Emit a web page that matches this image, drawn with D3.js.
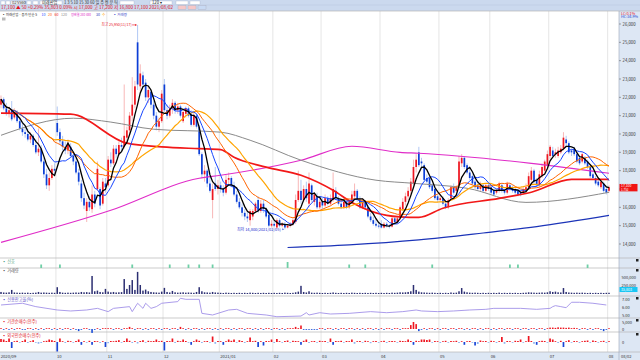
<!DOCTYPE html>
<html><head><meta charset="utf-8">
<script src="https://cdn.jsdelivr.net/npm/d3@7"></script>
<style>body{margin:0;background:#fff}svg{display:block;font-family:"Noto Sans CJK KR","Noto Sans",sans-serif}</style>
</head><body><svg id="c" width="640" height="360"></svg>
<script>
// ---------- DATA (daily, 2020/09/01 .. 2021/08/02) ----------
const open = [21600,21900,21400,21100,21300,20900,21200,20700,20300,20100,20000,19700,19900,19400,19000,19200,18500,17800,17200,17600,18100,
20600,20100,19600,19300,19100,19300,18800,18500,17900,17300,16500,15800,16300,15900,16700,17000,17000,16200,17300,
17200,18600,18400,19200,18900,19400,19300,19800,20200,21000,21600,25000,22600,23200,22800,22000,22300,21600,21000,20400,20700,
22700,21300,21000,21400,21700,21300,21500,20700,21100,21400,21100,20500,21000,20400,18900,17800,18000,17300,16400,17300,17000,
17200,17000,16800,17500,17600,17200,16700,16300,16000,15700,15500,15300,15500,15800,16400,15800,16200,15900,15600,15000,
15100,14900,15300,15000,15100,14900,15000,15100,15200,16400,16900,16400,17000,16200,17200,16300,16600,16000,
16300,16100,16500,16200,16400,16900,16500,16200,16000,16300,16000,16300,16600,16900,16400,16000,16300,16000,15500,15300,15100,15000,
15100,14900,15100,15000,14950,15400,15200,15400,15900,16300,16600,16900,17300,18200,19000,18500,18300,17600,17600,17200,17000,16600,
16400,16500,16200,16000,16500,17100,16900,17200,18400,18700,18300,17900,17700,17400,17200,17000,17200,16900,17200,
17100,16900,16800,16900,17200,16900,16800,17200,17100,17000,16900,16800,16800,16900,17100,17500,18000,17500,17200,17700,18000,18300,
18800,19100,18900,18800,19000,19200,19700,19500,19100,19200,18900,18700,18500,18700,18500,18200,17800,17600,17400,17100,17300,17000,
16900];
const high = [22100,22000,21700,21500,21800,21400,21300,20900,20600,20400,20300,20100,20000,19700,20300,19400,18700,18100,17900,18300,18400,
21500,20300,19900,19600,19700,19500,19000,18700,18100,17500,16800,16500,16600,17200,16900,18500,17100,17600,17600,
18800,19000,19400,19400,19600,19800,22700,20400,21200,23100,22900,25950,23800,23400,23000,22600,22400,21800,21200,20900,22400,
23000,21600,21600,21900,21800,21700,21600,21300,21500,21500,21300,21200,21100,20500,19000,18300,18100,17700,17300,18200,17500,
17400,17200,17800,17900,17700,17400,16900,16500,16200,15900,15800,15900,15900,16300,16600,16400,16400,16000,15800,15300,
15300,15400,15400,15200,15200,15100,15200,15400,16700,18000,17500,17200,17400,17900,17300,16800,16800,16500,
16500,16700,16600,16700,17900,17100,16600,16300,16500,16400,16400,16900,17300,17000,16600,16500,16400,16100,15700,15500,15400,15200,
15300,15200,15200,15100,15500,15500,15500,16100,16500,16800,17100,17600,18600,18900,19300,18700,18400,17800,17700,17300,17100,16700,
16700,16600,16300,16500,17200,17300,17200,18800,18900,18800,18400,18100,17800,17500,17300,17400,17300,17300,17300,
17200,17000,17000,17400,17300,17000,17400,17300,17200,17100,17000,16900,17100,17300,17900,18200,18100,17600,18000,18400,18600,19100,
19400,19300,19200,19300,19400,20100,19900,19600,19200,19300,19000,18800,19000,18800,18600,18300,17900,17700,17500,17500,17400,17100,
17200];
const low = [21400,21300,21000,20900,20700,20800,20600,20200,19900,19800,19600,19500,19300,18900,18800,18400,17600,17000,16900,17500,17800,
19900,19400,19100,18900,18900,18700,18300,17800,17200,16300,15900,15200,15800,15700,16000,16900,15900,16100,16800,
17100,18200,18300,18700,18800,19100,19200,19500,20000,20700,21400,22400,22200,22500,21800,21700,21400,20800,20200,20100,20600,
21200,20800,20900,21100,21100,21100,20900,20600,20900,20900,20400,20400,20300,18800,17600,17400,17100,16800,15400,16900,16700,
16800,16600,16700,17200,17100,16600,16200,15900,15500,15300,15200,15000,15300,15700,15700,15700,15700,15400,14900,14900,
14900,14850,14900,14900,14800,14850,14900,15000,15100,16300,16200,16300,16300,16000,16300,16100,15900,15900,
15900,16000,16100,16100,16300,16400,16100,15900,15900,15900,15900,16200,16500,16300,15900,15900,15900,15400,15200,15000,14900,14850,
14850,14850,14900,14850,14900,15100,15100,15300,15800,16100,16400,16700,17200,17900,18200,18200,17400,17300,17000,16800,16400,16300,
16300,16100,15900,15900,16400,16700,16700,17100,18200,18100,17800,17500,17200,17000,16900,16900,16800,16800,16900,
16700,16600,16700,16800,16800,16700,16700,16900,16800,16700,16600,16600,16700,16800,17000,17400,17300,17100,17100,17600,17900,18200,
18600,18700,18700,18700,18900,19100,19300,18900,18800,18800,18400,18300,18400,18300,18100,17600,17500,17200,17100,17000,16800,16700,
16800];
const close = [21900,21400,21100,21300,20800,21200,20700,20300,20100,20000,19700,19900,19400,19000,19200,18500,17800,17200,17600,18100,18000,
20100,19600,19300,19100,19400,18800,18500,17900,17400,16500,16100,16300,16000,16700,16200,18100,16100,17400,17100,
18600,18400,19200,18900,19400,19300,19900,20200,21000,21600,22600,22700,23300,22700,22000,22400,21600,21000,20400,20700,22200,
21300,21000,21400,21700,21300,21500,21000,21200,21400,21000,20500,21000,20400,18900,17800,18000,17300,16900,17000,17000,17200,
17000,16800,17500,17600,17200,16700,16300,16000,15700,15500,15400,15800,15800,16200,15800,16200,15900,15500,15000,15100,
15000,15300,15000,15100,14900,15000,15100,15300,16400,16900,16400,17000,16500,17300,16400,16700,16000,16300,
16100,16500,16200,16500,17000,16500,16200,16000,16300,16000,16300,16700,16900,16400,16000,16300,16000,15500,15300,15100,15000,14950,
14900,15100,15000,14950,15400,15200,15400,16000,16300,16600,16900,17400,18200,18600,18300,18400,17500,17400,17100,16900,16500,16400,
16500,16200,16000,16400,17100,16800,17100,18500,18700,18200,17900,17600,17300,17100,17000,17200,16900,17200,17000,
16800,16700,16900,17300,16900,16800,17300,17000,16900,16800,16700,16700,17000,17100,17700,18000,17400,17200,17800,18200,18500,18900,
19300,18800,19000,19100,19200,19800,19500,19000,19000,18900,18500,18400,18900,18400,18200,17700,17600,17300,17200,17400,16900,16800,
17100];
const volume = [60000,45000,40000,50000,120000,45000,40000,35000,40000,35000,40000,30000,35000,40000,60000,40000,45000,40000,35000,40000,
35000,200000,60000,40000,35000,40000,35000,40000,45000,40000,60000,50000,55000,45000,530000,80000,100000,60000,50000,150000,
70000,50000,60000,45000,50000,55000,440000,150000,265000,410000,120000,650000,265000,100000,130000,80000,60000,50000,45000,40000,
70000,180000,60000,45000,90000,50000,40000,45000,50000,40000,45000,40000,35000,60000,200000,80000,50000,45000,40000,60000,
45000,40000,35000,30000,40000,35000,30000,35000,30000,35000,30000,35000,30000,40000,35000,30000,35000,30000,35000,30000,
35000,30000,35000,30000,35000,30000,40000,35000,30000,35000,50000,70000,240000,60000,45000,80000,40000,35000,40000,35000,
30000,35000,30000,35000,45000,35000,30000,35000,30000,35000,30000,40000,35000,30000,35000,30000,35000,30000,35000,30000,
35000,30000,35000,30000,35000,30000,40000,35000,40000,50000,45000,50000,60000,80000,265000,120000,70000,50000,45000,40000,
35000,40000,35000,30000,35000,30000,35000,30000,45000,35000,40000,80000,175000,70000,50000,40000,35000,40000,35000,30000,
35000,30000,35000,30000,35000,30000,40000,30000,35000,30000,35000,30000,35000,30000,30000,35000,40000,50000,45000,40000,
35000,40000,45000,40000,50000,80000,60000,70000,50000,45000,175000,60000,45000,40000,35000,40000,35000,40000,35000,30000,
35000,30000,35000,30000,35000,30000,35000,35803];
const instNet = [300,-300,200,-200,300,-300,200,300,-200,-300,200,300,-300,200,-200,300,-300,200,300,-200,
300,-400,200,-300,300,200,-300,300,-300,-1500,-400,300,200,-300,-2800,-600,300,-300,200,300,
300,200,-300,300,200,-200,300,400,1500,300,-300,600,200,-300,300,-200,300,200,-300,300,
-300,300,200,-300,300,200,-300,1500,300,-200,300,-300,200,300,-300,200,-300,300,200,-300,
300,-200,300,-300,200,300,-300,200,-300,300,200,-300,300,200,-300,300,-200,300,-300,200,
300,-300,200,300,-300,200,-300,300,200,300,1500,600,2500,-500,-600,-400,-500,-300,-400,300,
300,-300,200,300,-300,200,-300,300,200,-300,300,200,-300,300,-400,200,-300,300,200,-300,
300,-200,300,-300,200,300,-300,200,300,-300,200,300,600,2800,5000,3500,-1500,-300,300,-300,
300,200,-300,300,-300,200,300,-300,200,300,-300,200,300,-300,200,-300,300,200,-300,300,
-300,200,300,-300,200,-300,300,200,-300,300,200,-300,300,200,-400,300,200,-300,300,200,
-300,300,200,-300,300,1000,1000,800,1200,1000,1000,800,1000,600,800,600,-300,300,200,-300,
300,-300,200,300,-300,-1500,-300,200];
const foreignNet = [30,25,10,35,-60,8,12,-8,10,25,-10,6,18,-6,-18,-10,8,12,25,18,
10,-95,35,8,-10,12,6,-8,10,25,-28,8,-6,12,-28,10,8,-10,6,-50,
-12,10,8,12,18,-8,10,35,12,-10,8,-15,10,18,-8,12,6,10,25,8,
12,-85,10,8,35,-10,12,8,25,10,-8,-28,6,25,12,-10,8,10,-6,55,
-18,10,8,-28,6,25,12,25,-8,18,10,-10,6,45,8,12,-50,6,-35,10,
8,25,-10,30,6,-8,10,15,-6,12,10,8,-28,12,25,-10,6,10,-8,12,
6,10,-8,35,-28,10,8,12,-6,10,8,25,-18,6,10,-8,12,6,-12,8,
10,-6,8,12,-10,6,10,8,-6,12,10,8,25,10,-28,12,8,25,25,20,
25,-8,10,6,-10,8,12,-6,10,8,12,-10,6,-28,8,10,-8,-35,-20,15,
8,10,-6,12,8,-10,6,50,-18,10,8,-6,12,10,25,-8,6,60,10,-18,
-28,8,12,10,-6,35,25,8,-10,12,-50,6,18,-8,10,6,-10,8,12,15,
-8,15,10,-6,8,12,-10,8];
// long moving averages (index, price)
const ma60Idx = [0,26,47,60,74,82,87,99,112,124,131,144,149,156,165,186,198,213,227];
const ma60Val = [21140,21080,19500,19300,19200,19150,18730,18190,17750,16930,16270,15560,15480,15450,15950,16490,16820,17530,17530];
const ma120Idx = [0,27,41,57,82,93,112,140,154,174,196,227];
const ma120Val = [19930,20860,20650,20260,20100,19660,18570,17480,17310,17040,16270,16820];
const ma240Idx = [0,41,74,82,112,131,149,156,198,227];
const ma240Val = [14090,15840,17590,17750,18570,19330,19000,18950,18400,17860];
const ma480Idx = [107,130,156,180,200,227];
const ma480Val = [13810,13950,14220,14600,14950,15560];
// credit balance ratio (%) read at turning points
const creditIdx = [0,8,13,21,26,32,36,40,42,48,49,51,53,54,56,58,60,66,67,69,74,75,79,85,88,92,99,103,112,114,115,119,123,130,138,144,150,155,157,163,169,175,181,184,194,200,205,206,207,209,211,213,216,221,226];
const creditVal = [6.27,6.48,6.07,5.66,5.54,5.66,5.86,5.46,5.86,6.07,5.46,6.48,5.86,6.48,5.86,6.07,6.48,6.68,7.09,6.96,6.96,5.25,5.05,5.66,5.74,5.25,5.05,4.84,4.92,5.33,5.05,5.33,5.17,5.25,5.46,5.33,5.46,5.66,5.54,5.46,5.54,5.66,5.74,5.86,5.86,5.74,5.86,6.07,6.19,6.07,5.94,6.60,6.60,6.48,6.27];
const signalIdx = [15,22,49,63,70,74,79,107,130,136,161,190,193,219];
const signalLevel = [1,1,1,1,1,1,1,2,1,1,1,1,1,1];
const monthStart = [0,21,40,61,82,102,120,142,164,183,205,227];
const monthLabels = ["2020/09","10","11","12","2021/01","02","03","04","05","06","07","08"];
const priceTicks = [14000,15000,16000,17000,18000,19000,20000,21000,22000,23000,24000,25000,26000];
const volTicks = [250000,500000];
const creditTicks = [5,6,7];
const shortMA = [{n:30,c:"#ffa400",w:1.2},{n:20,c:"#ff6400",w:1},{n:10,c:"#1746ff",w:1},{n:5,c:"#000000",w:1.3}];

// ---------- DRAW ----------
const svg = d3.select("#c");
const N = close.length;
const x = d3.scaleLinear().domain([0, N-1]).range([1, 609]);
const y = d3.scaleLinear().domain([14000, 26000]).range([244, 24]);
const yV = d3.scaleLinear().domain([0, 500000]).range([294, 277]);
const yC = d3.scaleLinear().domain([5, 7]).range([315.4, 299]);
const yI = d3.scaleLinear().domain([0, 5000]).range([329, 322]);
const yF = d3.scaleLinear().domain([0, 100]).range([342, 332]);
const fmt = d3.format(",");
const step = x(1)-x(0);

svg.append("rect").attr("width",640).attr("height",360).attr("fill","#fff");
// header
svg.append("rect").attr("width",640).attr("height",11).attr("fill","#cbd9ee");
svg.append("line").attr("x1",0).attr("x2",640).attr("y1",5).attr("y2",5).attr("stroke","#b7c7de").attr("stroke-width",0.5);
const hdr = svg.append("g").attr("font-size",4.2);
[[1,1,4],[6,1,4],[11,1,14],[27,1,4],[33,1,5],[40,1,22],[120,1,14],[150,1,22],[176,1,12],[190,1,10]].forEach(b=>
  hdr.append("rect").attr("x",b[0]).attr("y",b[1]).attr("width",b[2]).attr("height",3.4).attr("fill","#fff").attr("stroke","#9aa9c0").attr("stroke-width",0.3));
hdr.append("text").attr("x",12).attr("y",3.9).attr("fill","#222").text("025560");
hdr.append("text").attr("x",42).attr("y",3.9).attr("fill","#222").text("미래산업");
hdr.append("text").attr("x",64).attr("y",3.9).attr("fill","#333").attr("textLength",54).attr("lengthAdjust","spacingAndGlyphs").text("1 3 5 10 15 30 60 일 주 월 분 틱");
hdr.append("text").attr("x",152).attr("y",3.9).attr("fill","#222").text("120 ▾");
hdr.append("text").attr("x",1).attr("y",9.2).attr("fill","#e0101a").attr("textLength",172).attr("lengthAdjust","spacingAndGlyphs")
  .text("17,100 ▲  50 +0.29%   35,803   0.09%   시 17,000  고 17,200  저 16,800  17,100  2021/08/02");
[[178,"#f6c8c8"],[188,"#f6c8c8"],[198,"#c8daf4"]].forEach(b=>
  hdr.append("rect").attr("x",b[0]).attr("y",5.6).attr("width",8).attr("height",3.6).attr("fill",b[1]).attr("stroke","#a0a0b0").attr("stroke-width",0.3));

// right axis column & bottom band
svg.append("rect").attr("x",619).attr("y",11).attr("width",21).attr("height",349).attr("fill","#dde7f4");
svg.append("rect").attr("x",0).attr("y",352).attr("width",619).attr("height",8).attr("fill","#dde7f4");

// month gridlines
monthStart.slice(1).forEach(m=>{
  const gx = x(m)-step/2;
  svg.append("line").attr("x1",gx).attr("x2",gx).attr("y1",11).attr("y2",352).attr("stroke","#dedede").attr("stroke-width",0.8);
});
// panel separators
[11,258,268,296,318,332,352].forEach(py=>
  svg.append("line").attr("x1",0).attr("x2",640).attr("y1",py).attr("y2",py).attr("stroke","#b4b4b4").attr("stroke-width",0.7));
svg.append("line").attr("x1",619).attr("x2",619).attr("y1",11).attr("y2",360).attr("stroke","#9aa6b8").attr("stroke-width",0.6);

// candles
const cg = svg.append("g");
d3.range(N).forEach(i=>{
  const up = close[i] >= open[i];
  cg.append("line").attr("x1",x(i)).attr("x2",x(i)).attr("y1",y(high[i])).attr("y2",y(low[i]))
    .attr("stroke", up ? "#f39a9a" : "#8fb0ef").attr("stroke-width",0.7);
  const y0 = y(Math.max(open[i],close[i])), y1 = y(Math.min(open[i],close[i]));
  cg.append("rect").attr("x",x(i)-0.85).attr("width",1.7).attr("y",y0).attr("height",Math.max(0.8,y1-y0))
    .attr("fill", up ? "#ee1620" : "#0c3ed6");
});

// moving averages
const lineP = d3.line().x(d=>x(d[0])).y(d=>y(d[1])).curve(d3.curveMonotoneX);
function drawSampled(idx, val, color, w){
  svg.append("path").attr("d", lineP(idx.map((k,j)=>[k,val[j]]))).attr("fill","none").attr("stroke",color).attr("stroke-width",w);
}
drawSampled(ma240Idx, ma240Val, "#e02cc8", 1.1);
drawSampled(ma120Idx, ma120Val, "#8a8a8a", 1);
drawSampled(ma60Idx, ma60Val, "#f21818", 1.7);
drawSampled(ma480Idx, ma480Val, "#1c34b8", 1.2);
const lineS = d3.line().x(d=>x(d[0])).y(d=>y(d[1]));
shortMA.forEach(m=>{
  const pts = d3.range(N).map(i=>{ const s = close.slice(Math.max(0,i-m.n+1), i+1); return [i, d3.mean(s)]; });
  svg.append("path").attr("d", lineS(pts)).attr("fill","none").attr("stroke",m.c).attr("stroke-width",m.w);
});

// annotations (high / low)
const hi = d3.maxIndex(high), lo = d3.minIndex(low);
svg.append("text").attr("x",x(hi)-36).attr("y",y(high[hi])+1.5).attr("font-size",4).attr("fill","#e8101c")
  .attr("textLength",30).attr("lengthAdjust","spacingAndGlyphs").text("최고 25,950(11/17)");
svg.append("line").attr("x1",x(hi)-5.5).attr("x2",x(hi)-1).attr("y1",y(high[hi])).attr("y2",y(high[hi])).attr("stroke","#e8101c").attr("stroke-width",0.6);
svg.append("path").attr("d",`M${x(hi)-1},${y(high[hi])} l-1.5,-1 v2 z`).attr("fill","#e8101c");
svg.append("text").attr("x",x(lo)-48).attr("y",y(low[lo])+1.5).attr("font-size",4).attr("fill","#1a2fd0")
  .attr("textLength",44).attr("lengthAdjust","spacingAndGlyphs").text("최저 14,800(2021/02/05)");
svg.append("path").attr("d",`M${x(lo)-1},${y(low[lo])} l-1.5,-1 v2 z`).attr("fill","#1a2fd0");

// legend (each piece squeezed into the slot it has in the reference)
const lg = svg.append("g");
[["▪ 미래산업 · 종가 단순 5",2,35,"#222",3.3],["10",41.5,4,"#1746ff",4],["20",48,4,"#ff6400",4],["60",54.5,4,"#f21818",4],["120",61,6,"#8a8a8a",4],
 ["정배열 240 480",71,20,"#e02cc8",3.6],["30",96,4,"#1c34b8",4],["수",102,3.4,"#ffa400",3.6],["▪ 거래량",113,14,"#3444c8",3.8]].forEach(t=>
  lg.append("text").attr("x",t[1]).attr("y",15.5).attr("font-size",t[4]).attr("fill",t[3]).attr("textLength",t[2]).attr("lengthAdjust","spacingAndGlyphs").text(t[0]));
svg.append("rect").attr("x",2).attr("y",17.5).attr("width",3.5).attr("height",3).attr("fill","#bbb");

// price axis
const ax = svg.append("g").attr("font-size",4.3).attr("fill","#333");
priceTicks.forEach(p=>{
  ax.append("line").attr("x1",619).attr("x2",621).attr("y1",y(p)).attr("y2",y(p)).attr("stroke","#555").attr("stroke-width",0.5);
  if (p !== 17000) ax.append("text").attr("x",622.5).attr("y",y(p)+1.5).text(fmt(p));
});
svg.append("text").attr("x",621).attr("y",14.5).attr("font-size",3.8).attr("fill","#e8101c").text("LC:0.1%");
svg.append("text").attr("x",621).attr("y",18).attr("font-size",3.8).attr("fill","#2040d0").text("HC:34.9%");
const last = close[N-1];
svg.append("rect").attr("x",619.5).attr("y",y(last)-3.2).attr("width",18).attr("height",7.4).attr("fill","#f01414");
svg.append("text").attr("x",621).attr("y",y(last)+0.1).attr("font-size",3.4).attr("fill","#fff").text(fmt(last));
svg.append("text").attr("x",621).attr("y",y(last)+3.6).attr("font-size",3).attr("fill","#fff").text("1.752");

// signal panel
signalIdx.forEach((k,j)=>{
  const h = signalLevel[j] === 2 ? 6 : 3.5;
  svg.append("rect").attr("x",x(k)-0.9).attr("width",1.8).attr("y",268-h).attr("height",h).attr("fill","#6fcfa6");
});
// volume
volume.forEach((v,i)=>svg.append("rect").attr("x",x(i)-0.75).attr("width",1.5).attr("y",yV(v)).attr("height",294-yV(v)).attr("fill","#2c2f72"));
volTicks.forEach(t=>svg.append("text").attr("x",621.5).attr("y",yV(t)+1.5).attr("font-size",4).attr("fill","#333").text(fmt(t)));
svg.append("rect").attr("x",619.5).attr("y",287).attr("width",18).attr("height",5).attr("fill","#18c6f4");
svg.append("text").attr("x",621).attr("y",290.8).attr("font-size",3.6).attr("fill","#fff").text(fmt(volume[N-1]));
// credit balance
const lineC = d3.line().x((d,j)=>x(creditIdx[j])).y(d=>yC(d));
svg.append("path").attr("d",lineC(creditVal)).attr("fill","none").attr("stroke","#a291e8").attr("stroke-width",0.9);
creditTicks.forEach(t=>svg.append("text").attr("x",622).attr("y",yC(t)+1.5).attr("font-size",4).attr("fill","#333").text(t.toFixed(2)));
// institutional net
instNet.forEach((v,i)=>{
  const yy = yI(v), h = Math.max(0.8, Math.abs(yy-yI(0)));
  svg.append("rect").attr("x",x(i)-0.8).attr("width",1.6).attr("y", v>=0 ? yI(0)-h : yI(0)).attr("height",h)
    .attr("fill", v>=0 ? "#ee1620" : "#1d4fd8");
});
svg.append("text").attr("x",622).attr("y",yI(5000)+1.5).attr("font-size",4).attr("fill","#333").text("5,000");
svg.append("text").attr("x",622).attr("y",yI(0)+1.5).attr("font-size",4).attr("fill","#333").text("0");
// foreign net
foreignNet.forEach((v,i)=>{
  const h = Math.max(0.8, Math.abs(yF(v)-yF(0)));
  svg.append("rect").attr("x",x(i)-0.85).attr("width",1.7).attr("y", v>=0 ? yF(0)-h : yF(0)).attr("height",h)
    .attr("fill", v>=0 ? "#ee1620" : (Math.abs(v)>20 ? "#1a45d6" : "#8fb4f0"));
});
svg.append("text").attr("x",622).attr("y",yF(0)+1.5).attr("font-size",4).attr("fill","#333").text("0");

// panel titles
const pt = svg.append("g").attr("font-size",4.2);
[["▪ 신호",262.5,"#4aa080"],["▪ 거래량",272,"#555"],["▪ 신용잔고율(%)",300.5,"#5a4fc8"],["▪ 기관순매수(천주)",322.5,"#e0202a"],["▪ 외국인순매수(천주)",336.5,"#e0202a"]]
  .forEach(t=>pt.append("text").attr("x",2).attr("y",t[1]).attr("fill",t[2]).text(t[0]));
[258,268,296,318,332].forEach(py=>svg.append("rect").attr("x",636).attr("y",py+1).attr("width",2.5).attr("height",2.5).attr("fill","#222"));

// x axis labels
monthStart.forEach((m,k)=>svg.append("text").attr("x",x(m)-step/2+1).attr("y",358).attr("font-size",4.2).attr("fill","#333").text(monthLabels[k]));
svg.append("text").attr("x",621).attr("y",358).attr("font-size",4).attr("fill","#333").text("08/02");
</script></body></html>
